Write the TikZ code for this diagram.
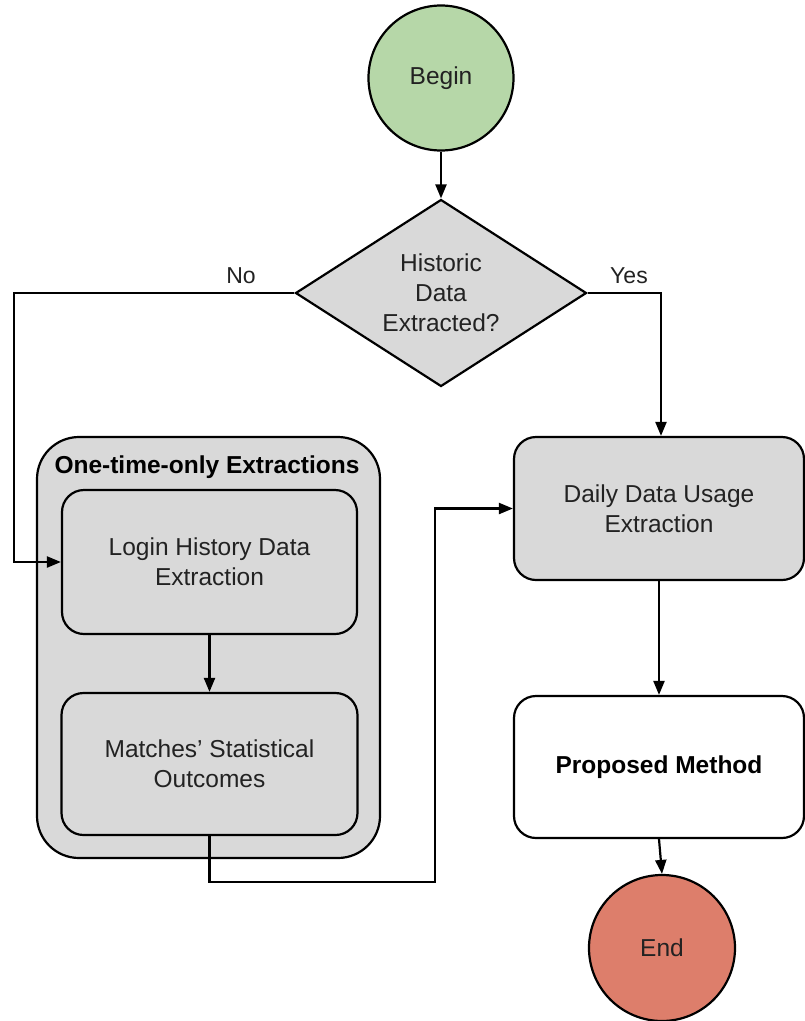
\documentclass[tikz,border=0pt]{standalone}
\usepackage{fontspec}
\setmainfont{Liberation Sans}
\usetikzlibrary{arrows.meta,shapes.geometric}
\definecolor{boxgray}{HTML}{D9D9D9}
\definecolor{begingreen}{HTML}{B6D7A8}
\definecolor{endred}{HTML}{DD7E6B}
\definecolor{txt}{HTML}{222222}
\begin{document}
\begin{tikzpicture}[x=1pt,y=-1pt,
  every node/.style={font=\fontsize{24.5}{30}\selectfont, text=txt},
  conn/.style={draw=black, line width=2.2pt},
  arr/.style={conn, -{Triangle[length=14pt,width=11pt]}},
  shp/.style={draw=black, line width=2.2pt, inner sep=0pt},
  rbox/.style={shp, rounded corners=22pt, fill=boxgray, align=center, minimum width=294pt, minimum height=143pt},
  lbl/.style={font=\fontsize{23}{28}\selectfont}
]
\useasboundingbox (0,0) rectangle (805,1021);

\node[shp, circle, fill=begingreen, minimum size=145pt] (begin) at (441,78) {Begin};
\node[shp, diamond, fill=boxgray, minimum width=291pt, minimum height=187pt,
      label={[align=center, font=\fontsize{24.5}{30}\selectfont, text=txt]center:Historic\\Data\\Extracted?}] (dec) at (441,293) {};

\node[shp, rounded corners=42pt, fill=boxgray, minimum width=343pt, minimum height=421pt] (grp) at (208.5,647.5) {};
\node[font=\bfseries\fontsize{24.5}{30}\selectfont, text=black] (grptitle) at (207,467) {One-time-only Extractions};

\node[rbox, minimum width=295pt, minimum height=144pt] (login) at (209.5,562) {Login History Data\\Extraction};
\node[rbox, minimum width=296pt, minimum height=142pt] (matches) at (209.5,764) {Matches’ Statistical\\Outcomes};

\node[rbox, minimum width=290pt, minimum height=143pt] (daily) at (659,508.5) {Daily Data Usage\\Extraction};
\node[rbox, fill=white, minimum width=290pt, minimum height=142pt, font=\bfseries\fontsize{24.5}{30}\selectfont, text=black] (prop) at (659,767) {Proposed Method};

\node[shp, circle, fill=endred, minimum size=146pt] (end) at (662,948) {End};

\coordinate (nocorner) at (14,293);
\coordinate (yescorner) at (661,293);
\coordinate (mcorner) at (435,882);

\draw[arr] (begin.south) -- (dec.north);
\draw[arr] (dec.west) -- (nocorner) |- (login.west);
\draw[arr] (dec.east) -- (yescorner) -- (yescorner |- daily.north);
\draw[arr] (login.south) -- (matches.north);
\draw[arr] (matches.south) |- (mcorner) |- (daily.west);
\draw[arr] (daily.south) -- (prop.north);
\draw[arr] (prop.south) -- (end.north);

\node[lbl] (nolbl) at (241,276) {No};
\node[lbl] (yeslbl) at (629,276) {Yes};
\end{tikzpicture}
\end{document}
